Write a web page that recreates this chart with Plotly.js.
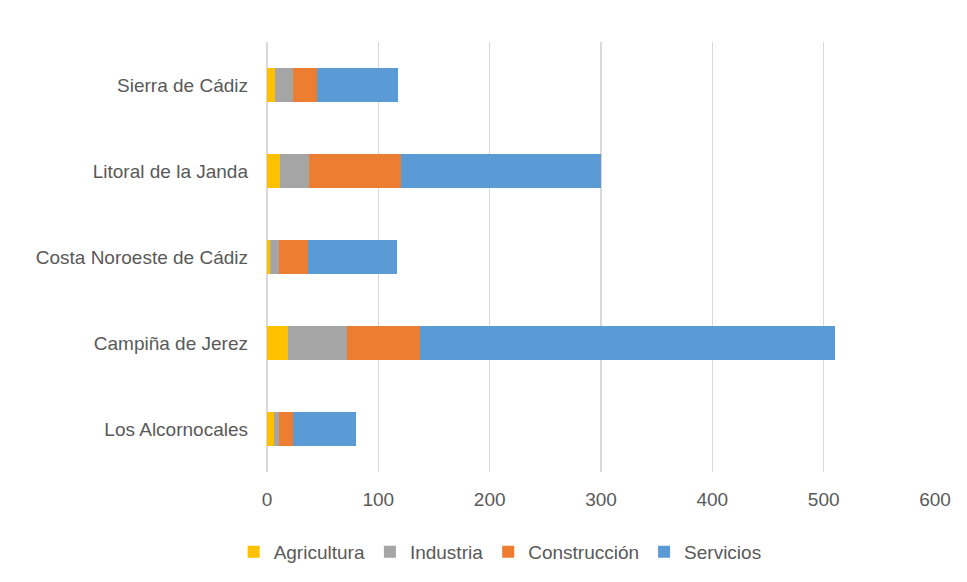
<!DOCTYPE html>
<html>
<head>
<meta charset="utf-8">
<script src="https://cdn.plot.ly/plotly-3.0.1.min.js"></script>
<style>html,body{margin:0;padding:0;background:#fff;}#chart{width:967px;height:582px;}</style>
</head>
<body>
<div id="chart"></div>
<script>
var categories = ["Los Alcornocales", "Campiña de Jerez", "Costa Noroeste de Cádiz", "Litoral de la Janda", "Sierra de Cádiz"];
var agricultura = [6.3, 19, 3, 12, 7.5];
var industria = [4.5, 53, 8, 26, 16];
var construccion = [12.6, 65.5, 25.5, 82, 21];
var servicios = [56.6, 372.5, 80, 180, 73];
var seriesNames = ["Agricultura", "Industria", "Construcción", "Servicios"];
var seriesColors = ["#FFC000", "#A5A5A5", "#ED7D31", "#5B9BD5"];
var seriesValues = [agricultura, industria, construccion, servicios];

var fontFam = "'Liberation Sans', Arial, sans-serif";
var traces = seriesValues.map(function(v, i){
  return {
    type: 'bar', orientation: 'h', name: seriesNames[i],
    x: v, y: categories,
    marker: {color: seriesColors[i], line: {width: 0}},
    hoverinfo: 'x+name'
  };
});

var layout = {
  width: 967, height: 582,
  margin: {l: 267, r: 32, t: 42, b: 110, autoexpand: false},
  barmode: 'stack',
  bargap: 0.6,
  paper_bgcolor: '#fff', plot_bgcolor: '#fff',
  font: {family: fontFam, size: 19, color: '#595959'},
  xaxis: {
    range: [0, 600], dtick: 100, tick0: 0, tickangle: 0,
    showgrid: true, gridcolor: '#D9D9D9', gridwidth: 1.3,
    zeroline: true, zerolinecolor: '#D9D9D9', zerolinewidth: 1.3,
    showline: false, ticks: '', ticklen: 0,
    ticklabelstandoff: 14,
    tickfont: {family: fontFam, size: 19, color: '#595959'}
  },
  yaxis: {
    categoryorder: 'array', categoryarray: categories,
    showgrid: false, zeroline: false, showline: false, ticks: '',
    ticklabelstandoff: 18,
    tickfont: {family: fontFam, size: 19, color: '#595959'}
  },
  legend: {
    orientation: 'h', x: 0.349, xref: 'paper', xanchor: 'center',
    y: -0.186, yanchor: 'middle',
    font: {family: fontFam, size: 19, color: '#595959'},
    itemwidth: 30, traceorder: 'normal'
  },
  showlegend: true
};

Plotly.newPlot('chart', traces, layout, {displayModeBar: false, staticPlot: true});
</script>
</body>
</html>
